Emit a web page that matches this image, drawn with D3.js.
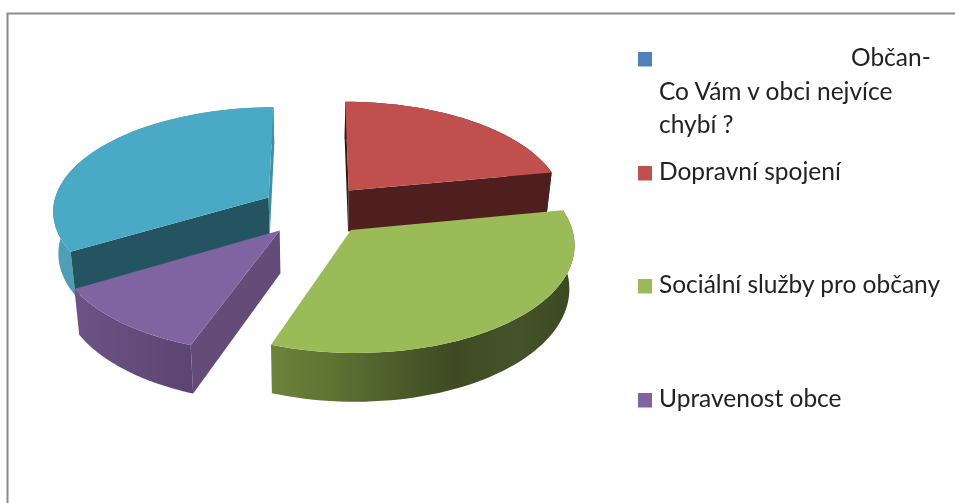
<!DOCTYPE html>
<html>
<head>
<meta charset="utf-8">
<script src="https://cdn.jsdelivr.net/npm/d3@7"></script>
<style>
  html, body { margin: 0; padding: 0; background: #fff; overflow: hidden; }
  svg { display: block; }
  text { font-family: Lato, "Open Sans", sans-serif; fill: #222; }
</style>
</head>
<body>
<svg id="chart" width="955" height="503"></svg>
<script>
// data (share in %, first series has no slice)
const categories = ["Občan- Co Vám v obci nejvíce chybí ?", "Dopravní spojení", "Sociální služby pro občany", "Upravenost obce", "Další"];
const shares     = [0, 22, 33.5, 11, 33.5];
const topColors  = ["#4f81bd", "#c0504d", "#9bbb59", "#8064a2", "#4aa9c4"];
const endCut     = ["#4f81bd", "#4e1f1e", "#3f4c22", "#634d78", "#3f8fa8"];
const startCut   = ["#4f81bd", "#3a1614", "#3f4c22", "#634d78", "#245361"];
const sideStops  = [
  ["#4f81bd", "#4f81bd"],
  ["#4e1f1e", "#4e1f1e"],
  ["#6d823a", "#5f7334", "#4d5e2b", "#3f4a22", "#45532a", "#3c4821"],
  ["#6b5386", "#5b4472"],
  ["#4f9fb7", "#3f8fa8"]
];
const legendRows = [
  { cat: 0, lines: ["Občan-", "Co Vám v obci nejvíce", "chybí ?"] },
  { cat: 1, lines: ["Dopravní spojení"] },
  { cat: 2, lines: ["Sociální služby pro občany"] },
  { cat: 3, lines: ["Upravenost obce"] }
];

const svg = d3.select("#chart");

// frame, cut off by the picture on the right and at the bottom
svg.append("path")
  .attr("d", d3.line()([[7.5, 503], [7.5, 13.5], [955, 13.5]]))
  .attr("fill", "none")
  .attr("stroke", "#8c8c8c")
  .attr("stroke-width", 2);

// pie seen from above with some perspective
const cx = 315, cy = 210;
const rx = 216.5, ry = 103.4;
const persp = 0.117;      // how fast things shrink towards the back
const explode = 0.25;
const depth = 42;

const pie = d3.pie().sort(null).value(d => d).startAngle(0).endAngle(2 * Math.PI);
const slices = pie(shares).map((d, i) => ({ ...d, i })).filter(d => d.value > 0);

function project(wx, wy, low) {
  const s = 1 / (1 + persp * wy);
  const px = wx * rx * s, py = -wy * ry * s;
  if (!low) return [cx + px, cy + py];
  return [cx + px * 0.98, cy + py + depth * s];
}

const line = d3.line();
const chart = svg.append("g").attr("class", "pie3d").style("filter", "blur(0.4px)");
const defs = svg.append("defs");

// back slices first
const drawOrder = [4, 1, 3, 2];
drawOrder.forEach(idx => {
  const d = slices.find(s => s.i === idx);
  const mid = (d.startAngle + d.endAngle) / 2;
  const ox = explode * Math.sin(mid), oy = explode * Math.cos(mid);
  const n = 60;
  const angles = d3.range(n + 1).map(k => d.startAngle + (d.endAngle - d.startAngle) * k / n);
  const rim = low => angles.map(a => project(ox + Math.sin(a), oy + Math.cos(a), low));
  const apex = low => project(ox, oy, low);
  const topRim = rim(false), lowRim = rim(true);

  // outer wall
  const grad = defs.append("linearGradient").attr("id", "side" + idx);
  sideStops[idx].forEach((c, k, all) => {
    grad.append("stop").attr("offset", k / (all.length - 1)).attr("stop-color", c);
  });
  chart.append("path")
    .attr("d", line(topRim.concat(lowRim.slice().reverse())) + "Z")
    .attr("fill", `url(#side${idx})`);

  // radial cut faces, only the ones turned towards us
  if (topRim[0][0] < apex(false)[0]) {
    chart.append("path")
      .attr("d", line([apex(false), topRim[0], lowRim[0], apex(true)]) + "Z")
      .attr("fill", startCut[idx]);
  }
  if (topRim[n][0] > apex(false)[0]) {
    chart.append("path")
      .attr("d", line([apex(false), topRim[n], lowRim[n], apex(true)]) + "Z")
      .attr("fill", endCut[idx]);
  }

  // top
  chart.append("path")
    .attr("d", line([apex(false)].concat(topRim)) + "Z")
    .attr("fill", topColors[idx]);
});

// legend
const rowY = [66, 180, 293, 407];
const legend = svg.append("g").attr("class", "legend").style("filter", "blur(0.4px)");
legendRows.forEach((row, i) => {
  legend.append("rect")
    .attr("x", 638).attr("y", rowY[i] - 14)
    .attr("width", 14).attr("height", 14.5)
    .attr("fill", topColors[row.cat]);
  row.lines.forEach((t, k) => {
    legend.append("text")
      .attr("x", i === 0 && k === 0 ? 851 : 659)
      .attr("y", rowY[i] + (i === 0 ? k * 33.5 : 0))
      .attr("font-size", 24.5)
      .text(t);
  });
});
</script>
</body>
</html>
